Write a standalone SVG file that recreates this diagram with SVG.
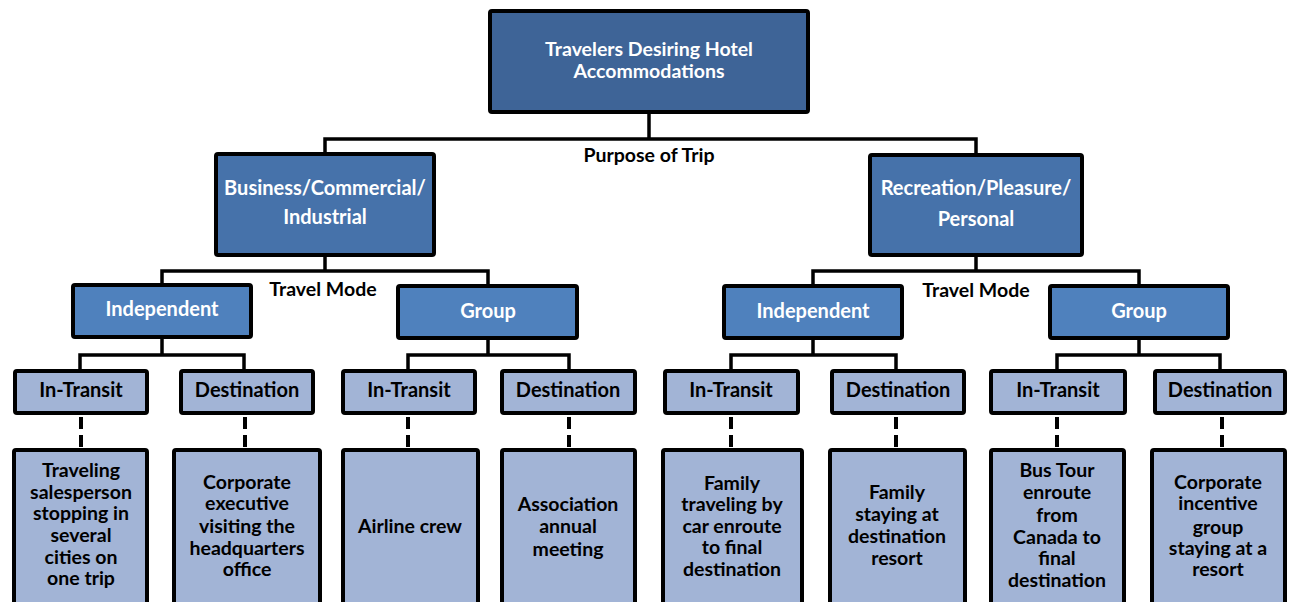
<svg xmlns="http://www.w3.org/2000/svg" width="1289" height="602" viewBox="0 0 1289 602">
<style>
.box{stroke:#000;stroke-width:4}
.l1{fill:#3E6497}
.l2{fill:#4672AA}
.l3{fill:#4F81BD}
.l4{fill:#A2B4D6}
text{font-family:Lato,"Liberation Sans",sans-serif;font-weight:bold;text-anchor:middle}
.w{fill:#fff;font-size:20px}
.t{fill:#fff;font-size:19.5px}
.b{fill:#000;font-size:20px}
.lf{fill:#000;font-size:19.5px}
.lbl{fill:#000;font-size:19.5px}
.con{fill:none;stroke:#000;stroke-width:3.5}
.dash{fill:none;stroke:#000;stroke-width:4;stroke-dasharray:12 6}
</style>
<rect width="1289" height="602" fill="#fff"/>
<g id="connectors">
<path class="con" d="M649,113 V139 M325,153 V139 H976 V154"/>
<path class="con" d="M325,256 V271 M162,284 V271 H488 V285"/>
<path class="con" d="M976,256 V271 M813,285 V271 H1139 V285"/>
<path class="con" d="M162,337 V355 M80,370 V355 H244 V370"/>
<path class="con" d="M488,339 V355 M408,370 V355 H569 V370"/>
<path class="con" d="M813,339 V355 M731,370 V355 H896 V370"/>
<path class="con" d="M1139,339 V355 M1057,370 V355 H1220 V370"/>
<path class="dash" d="M81,417 V448 M245,417 V448 M408,417 V448 M569,417 V448 M731,417 V448 M896,417 V448 M1057,417 V448 M1222,417 V448"/>
<text class="lbl" x="649" y="162">Purpose of Trip</text>
<text class="lbl" x="323" y="296">Travel Mode</text>
<text class="lbl" x="976" y="297">Travel Mode</text>
</g>
<g id="root"><rect class="box l1" x="490" y="11" width="318" height="101" rx="2"/><text class="t" x="649" y="56">Travelers Desiring Hotel</text><text class="t" x="649" y="78">Accommodations</text></g>
<g id="business"><rect class="box l2" x="216" y="154" width="218" height="101" rx="2"/><text class="w" x="325" y="195">Business/Commercial/</text><text class="w" x="325" y="224">Industrial</text></g>
<g id="recreation"><rect class="box l2" x="870" y="155" width="212" height="100" rx="2"/><text class="w" x="976" y="195">Recreation/Pleasure/</text><text class="w" x="976" y="226">Personal</text></g>
<g id="indep-b"><rect class="box l3" x="73" y="285" width="178" height="52" rx="2"/><text class="w" x="162" y="316">Independent</text></g>
<g id="group-b"><rect class="box l3" x="398" y="286" width="179" height="52" rx="2"/><text class="w" x="488" y="318">Group</text></g>
<g id="indep-r"><rect class="box l3" x="724" y="286" width="178" height="52" rx="2"/><text class="w" x="813" y="318">Independent</text></g>
<g id="group-r"><rect class="box l3" x="1050" y="286" width="178" height="52" rx="2"/><text class="w" x="1139" y="318">Group</text></g>
<g id="bi-transit"><rect class="box l4" x="15" y="371" width="132" height="42" rx="2"/><text class="b" x="81" y="397">In-Transit</text></g>
<g id="bi-dest"><rect class="box l4" x="181" y="371" width="132" height="42" rx="2"/><text class="b" x="247" y="397">Destination</text></g>
<g id="bg-transit"><rect class="box l4" x="343" y="371" width="132" height="42" rx="2"/><text class="b" x="409" y="397">In-Transit</text></g>
<g id="bg-dest"><rect class="box l4" x="502" y="371" width="133" height="42" rx="2"/><text class="b" x="568" y="397">Destination</text></g>
<g id="ri-transit"><rect class="box l4" x="665" y="371" width="133" height="42" rx="2"/><text class="b" x="731" y="397">In-Transit</text></g>
<g id="ri-dest"><rect class="box l4" x="832" y="371" width="132" height="42" rx="2"/><text class="b" x="898" y="397">Destination</text></g>
<g id="rg-transit"><rect class="box l4" x="991" y="371" width="134" height="42" rx="2"/><text class="b" x="1058" y="397">In-Transit</text></g>
<g id="rg-dest"><rect class="box l4" x="1155" y="371" width="130" height="42" rx="2"/><text class="b" x="1220" y="397">Destination</text></g>
<g id="leaf1"><rect class="box l4" x="14" y="450" width="133" height="170" rx="2"/><text class="lf" x="81"><tspan x="81" y="477">Traveling</tspan><tspan x="81" y="499">salesperson</tspan><tspan x="81" y="520">stopping in</tspan><tspan x="81" y="542">several</tspan><tspan x="81" y="564">cities on</tspan><tspan x="81" y="585">one trip</tspan></text></g>
<g id="leaf2"><rect class="box l4" x="174" y="450" width="146" height="170" rx="2"/><text class="lf" x="247"><tspan x="247" y="489">Corporate</tspan><tspan x="247" y="510">executive</tspan><tspan x="247" y="533">visiting the</tspan><tspan x="247" y="555">headquarters</tspan><tspan x="247" y="576">office</tspan></text></g>
<g id="leaf3"><rect class="box l4" x="343" y="450" width="135" height="170" rx="2"/><text class="lf" x="410" y="533">Airline crew</text></g>
<g id="leaf4"><rect class="box l4" x="502" y="450" width="133" height="170" rx="2"/><text class="lf" x="568"><tspan x="568" y="511">Association</tspan><tspan x="568" y="533">annual</tspan><tspan x="568" y="556">meeting</tspan></text></g>
<g id="leaf5"><rect class="box l4" x="663" y="450" width="139" height="170" rx="2"/><text class="lf" x="732"><tspan x="732" y="490">Family</tspan><tspan x="732" y="511">traveling by</tspan><tspan x="732" y="533">car enroute</tspan><tspan x="732" y="554">to final</tspan><tspan x="732" y="576">destination</tspan></text></g>
<g id="leaf6"><rect class="box l4" x="830" y="450" width="135" height="170" rx="2"/><text class="lf" x="897"><tspan x="897" y="499">Family</tspan><tspan x="897" y="521">staying at</tspan><tspan x="897" y="543">destination</tspan><tspan x="897" y="565">resort</tspan></text></g>
<g id="leaf7"><rect class="box l4" x="991" y="450" width="133" height="170" rx="2"/><text class="lf" x="1057"><tspan x="1057" y="477">Bus Tour</tspan><tspan x="1057" y="499">enroute</tspan><tspan x="1057" y="522">from</tspan><tspan x="1057" y="544">Canada to</tspan><tspan x="1057" y="565">final</tspan><tspan x="1057" y="587">destination</tspan></text></g>
<g id="leaf8"><rect class="box l4" x="1152" y="450" width="133" height="170" rx="2"/><text class="lf" x="1218"><tspan x="1218" y="489">Corporate</tspan><tspan x="1218" y="510">incentive</tspan><tspan x="1218" y="534">group</tspan><tspan x="1218" y="555">staying at a</tspan><tspan x="1218" y="576">resort</tspan></text></g>
</svg>
